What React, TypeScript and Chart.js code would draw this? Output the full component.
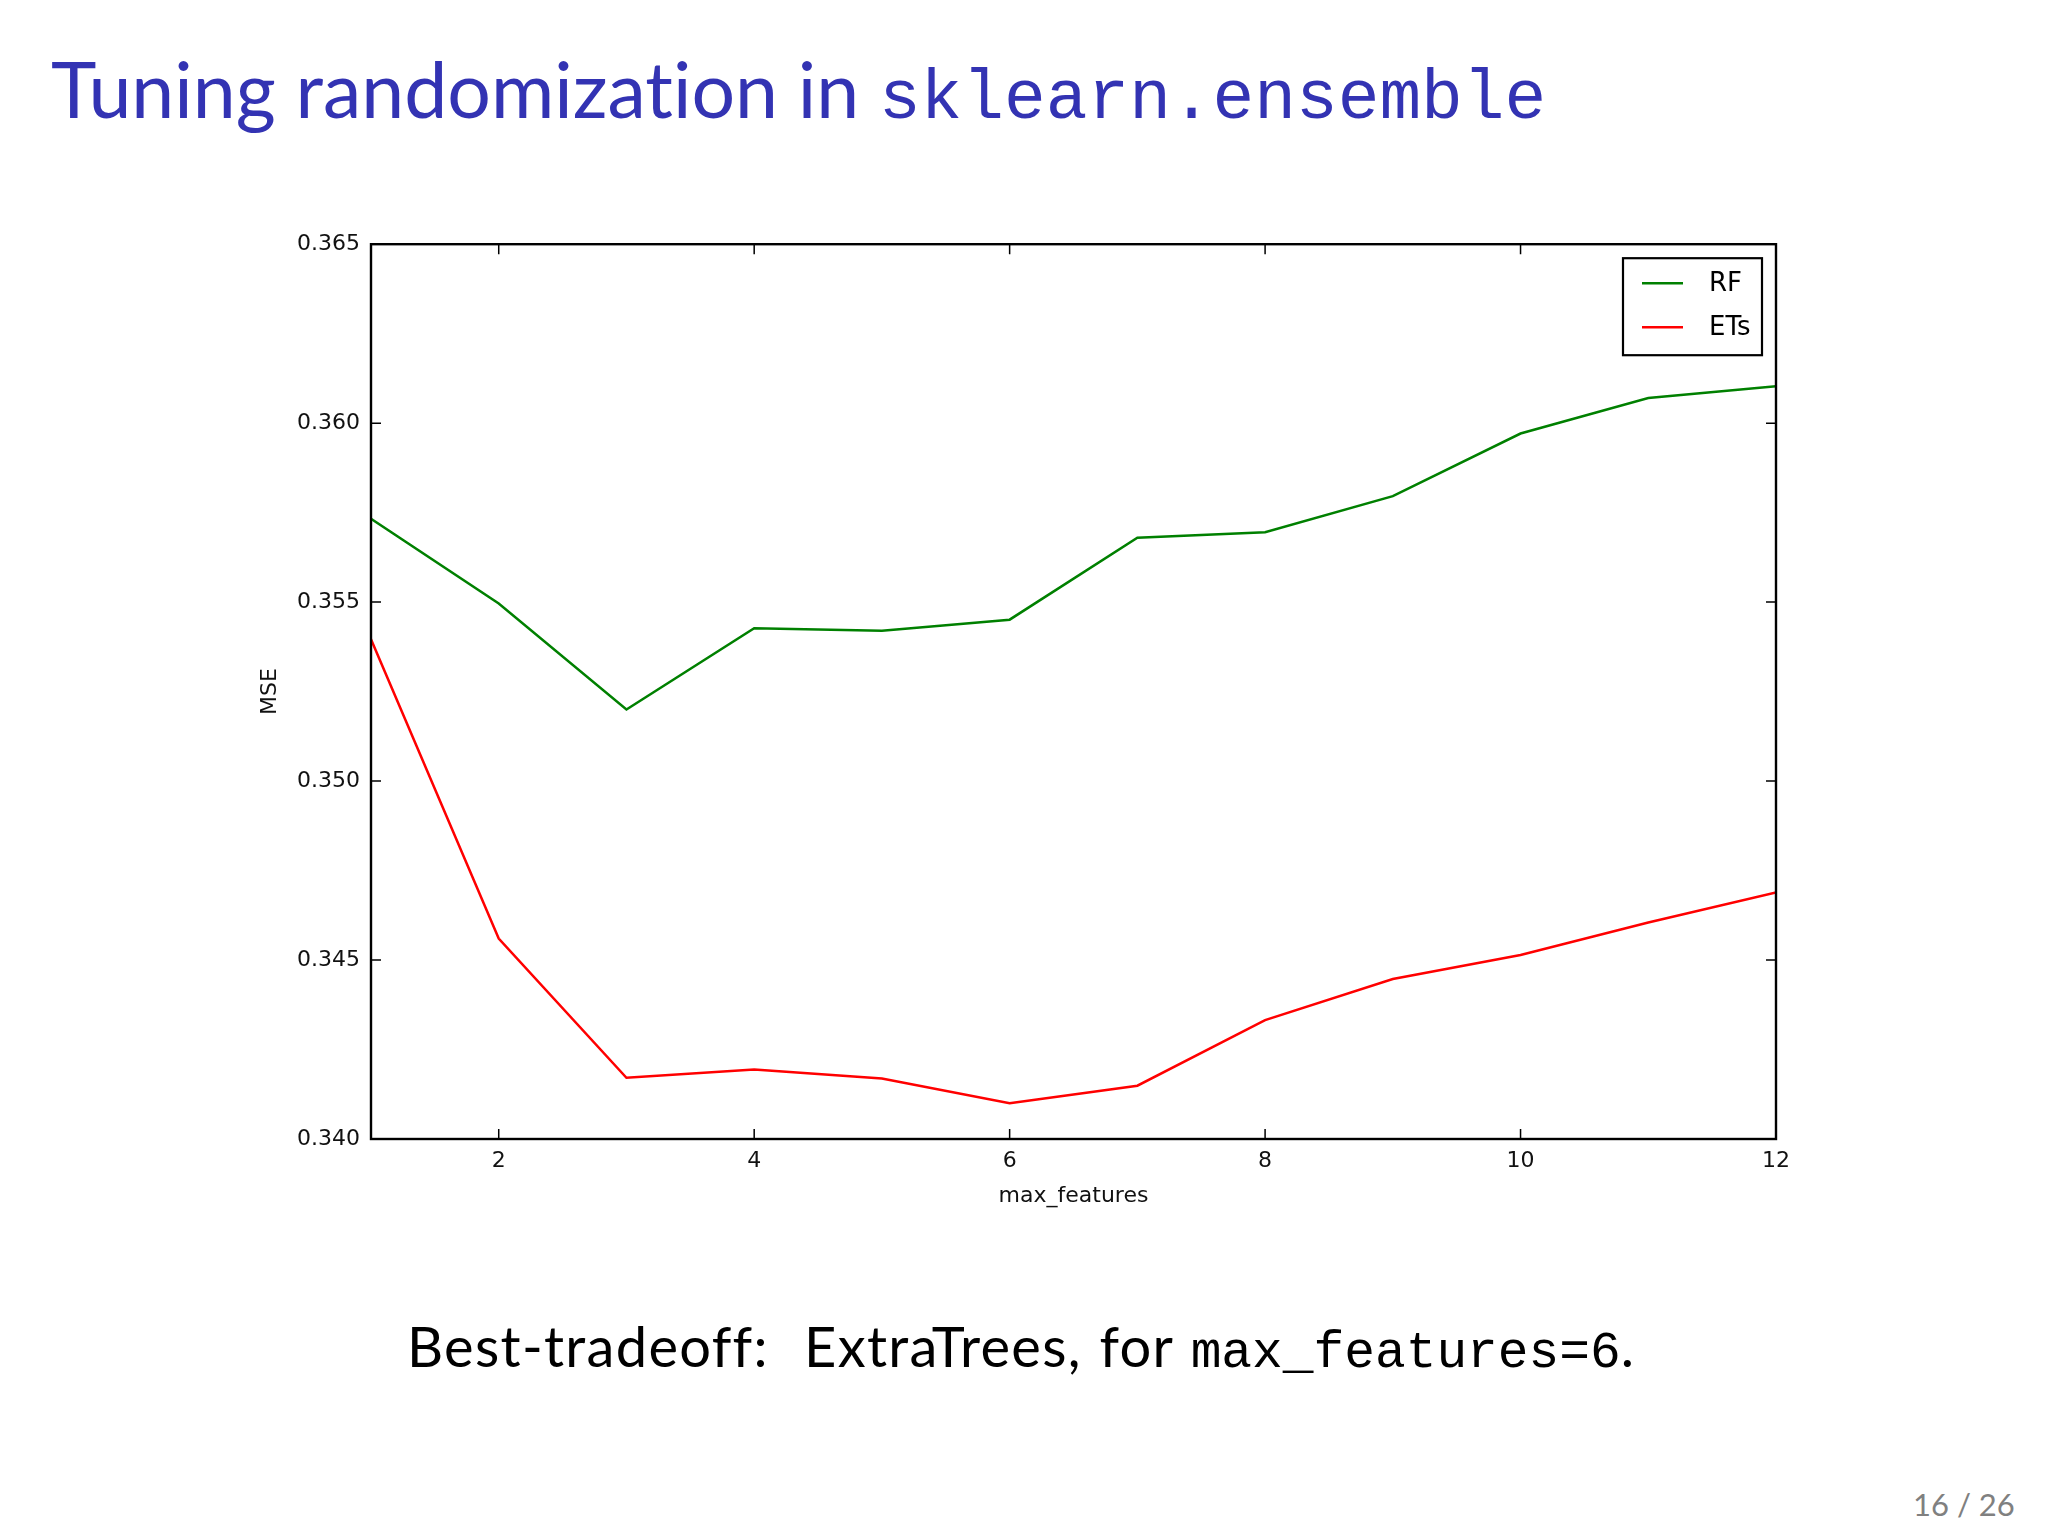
import React, { useEffect, useRef } from "react";
import { Chart, registerables } from "chart.js";

Chart.register(...registerables);

const maxFeatures = [1, 2, 3, 4, 5, 6, 7, 8, 9, 10, 11, 12];
const rfMse = [0.35733, 0.35496, 0.352, 0.35427, 0.3542, 0.35451, 0.3568, 0.35695, 0.35796, 0.35971, 0.3607, 0.36103];
const etsMse = [0.35396, 0.3456, 0.34171, 0.34194, 0.34169, 0.341, 0.34149, 0.34332, 0.34447, 0.34514, 0.34605, 0.34689];
const seriesLabels = ["RF", "ETs"];
const seriesColors = ["#008000", "#ff0000"];
const xTicks = [2, 4, 6, 8, 10, 12];
const yTicks = [0.34, 0.345, 0.35, 0.355, 0.36, 0.365];
const xTitle = "max_features";
const yTitle = "MSE";

const AXIS_FONT = "'DejaVu Sans', sans-serif";

const framePlugin = {
  id: "frameTicks",
  afterDatasetsDraw(chart: any) {
    const { ctx, chartArea: a, scales } = chart;
    const tl = 10;
    ctx.save();
    ctx.strokeStyle = "#000";
    ctx.lineWidth = 1.5;
    ctx.beginPath();
    scales.x.ticks.forEach((t: any) => {
      const px = scales.x.getPixelForValue(t.value);
      ctx.moveTo(px, a.bottom);
      ctx.lineTo(px, a.bottom - tl);
      ctx.moveTo(px, a.top);
      ctx.lineTo(px, a.top + tl);
    });
    scales.y.ticks.forEach((t: any) => {
      const py = scales.y.getPixelForValue(t.value);
      ctx.moveTo(a.left, py);
      ctx.lineTo(a.left + tl, py);
      ctx.moveTo(a.right, py);
      ctx.lineTo(a.right - tl, py);
    });
    ctx.stroke();
    ctx.lineWidth = 2.4;
    ctx.strokeRect(a.left, a.top, a.right - a.left, a.bottom - a.top);
    ctx.restore();
  },
};

const boxLegendPlugin = {
  id: "boxLegend",
  afterDraw(chart: any) {
    const { ctx, chartArea: a } = chart;
    const w = 139;
    const h = 97;
    const x0 = a.right - 14 - w;
    const y0 = a.top + 14;
    ctx.save();
    ctx.fillStyle = "#fff";
    ctx.fillRect(x0, y0, w, h);
    ctx.strokeStyle = "#000";
    ctx.lineWidth = 2.2;
    ctx.strokeRect(x0, y0, w, h);
    ctx.font = `26px ${AXIS_FONT}`;
    ctx.textBaseline = "middle";
    ctx.textAlign = "left";
    chart.data.datasets.forEach((ds: any, i: number) => {
      const cy = y0 + 25 + i * 44;
      ctx.strokeStyle = ds.borderColor;
      ctx.lineWidth = 2.5;
      ctx.beginPath();
      ctx.moveTo(x0 + 19, cy);
      ctx.lineTo(x0 + 60, cy);
      ctx.stroke();
      ctx.fillStyle = "#000";
      ctx.fillText(ds.label, x0 + 86, cy + 1);
    });
    ctx.restore();
  },
};

function MseChart() {
  const ref = useRef<HTMLCanvasElement | null>(null);
  useEffect(() => {
    if (!ref.current) return;
    const chart = new Chart(ref.current, {
      type: "line",
      data: {
        datasets: [rfMse, etsMse].map((vals, i) => ({
          label: seriesLabels[i],
          data: maxFeatures.map((x, j) => ({ x, y: vals[j] })),
          borderColor: seriesColors[i],
          backgroundColor: seriesColors[i],
          borderWidth: 2.5,
          pointRadius: 0,
          tension: 0,
          fill: false,
        })),
      },
      options: {
        animation: false,
        responsive: false,
        devicePixelRatio: 1,
        layout: { padding: { top: 24, right: 44, left: 0, bottom: 0 } },
        plugins: { legend: { display: false }, tooltip: { enabled: false } },
        scales: {
          x: {
            type: "linear",
            min: 1,
            max: 12,
            grid: { display: false, drawTicks: false },
            border: { display: false },
            afterBuildTicks: (s: any) => {
              s.ticks = xTicks.map((v) => ({ value: v }));
            },
            afterFit: (s: any) => {
              s.height = 91;
            },
            ticks: {
              padding: 9,
              color: "#111",
              font: { family: AXIS_FONT, size: 22 },
              maxRotation: 0,
              autoSkip: false,
              callback: (v: any) => String(v),
            },
            title: {
              display: true,
              text: xTitle,
              color: "#111",
              font: { family: AXIS_FONT, size: 22 },
              padding: { top: 0, bottom: 21 },
            },
          },
          y: {
            type: "linear",
            min: 0.34,
            max: 0.365,
            grid: { display: false, drawTicks: false },
            border: { display: false },
            afterBuildTicks: (s: any) => {
              s.ticks = yTicks.map((v) => ({ value: v }));
            },
            afterFit: (s: any) => {
              s.width = 131;
            },
            ticks: {
              padding: 11,
              color: "#111",
              font: { family: AXIS_FONT, size: 22 },
              autoSkip: false,
              callback: (v: any) => Number(v).toFixed(3),
            },
            title: {
              display: true,
              text: yTitle,
              color: "#111",
              font: { family: AXIS_FONT, size: 22 },
              padding: { top: 17, bottom: 0 },
            },
          },
        },
      },
      plugins: [framePlugin, boxLegendPlugin],
    } as any);
    return () => chart.destroy();
  }, []);
  return (
    <canvas
      ref={ref}
      width={1580}
      height={1010}
      style={{ position: "absolute", left: 240, top: 220, width: 1580, height: 1010 }}
    />
  );
}

export default function App() {
  const sans = "Lato, 'Open Sans', sans-serif";
  const mono = "'Liberation Mono', 'DejaVu Sans Mono', monospace";
  return (
    <div
      style={{
        position: "absolute",
        left: 0,
        top: 0,
        width: 2048,
        height: 1536,
        background: "#fff",
        overflow: "hidden",
      }}
    >
      <div
        style={{
          position: "absolute",
          left: 51,
          top: 50,
          whiteSpace: "nowrap",
          color: "rgb(51,51,179)",
          fontFamily: sans,
          fontSize: 77,
          lineHeight: 1,
          fontVariantLigatures: "none",
        }}
      >
        Tuning randomization in <span style={{ fontFamily: mono, fontSize: 69.5 }}>sklearn.ensemble</span>
      </div>
      <MseChart />
      <div
        style={{
          position: "absolute",
          left: 407,
          top: 1318,
          whiteSpace: "nowrap",
          color: "#000",
          fontFamily: sans,
          fontSize: 56,
          lineHeight: 1,
          letterSpacing: "1.3px",
          wordSpacing: "2px",
        }}
      >
        Best-tradeoff:&nbsp; ExtraTrees, for{" "}
        <span style={{ fontFamily: mono, fontSize: 51.2, letterSpacing: 0, wordSpacing: 0 }}>max_features=6</span>.
      </div>
      <div
        style={{
          position: "absolute",
          left: 1913,
          top: 1489,
          whiteSpace: "nowrap",
          color: "#808080",
          fontFamily: sans,
          fontSize: 31,
          lineHeight: 1,
        }}
      >
        16 / 26
      </div>
    </div>
  );
}
